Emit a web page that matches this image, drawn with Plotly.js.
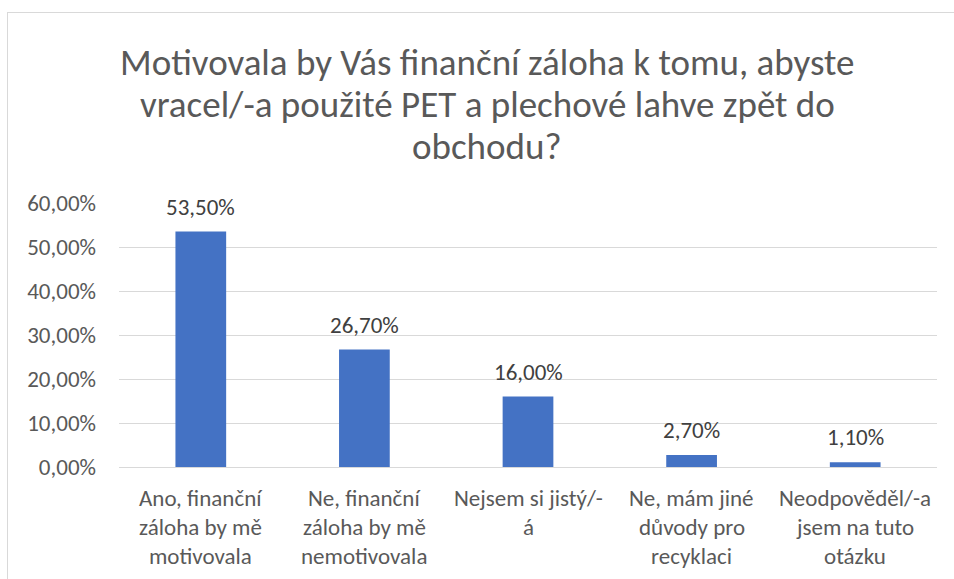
<!DOCTYPE html>
<html>
<head>
<meta charset="utf-8">
<script src="https://cdn.plot.ly/plotly-3.0.1.min.js"></script>
<style>
html,body{margin:0;padding:0;background:#fff;}
#wrap{position:relative;width:954px;height:579px;}
#chart{width:954px;height:579px;}
#frame{position:absolute;left:7px;top:12px;right:-2px;bottom:-2px;border:1px solid #d9d9d9;pointer-events:none;}
</style>
</head>
<body>
<div id="wrap"><div id="chart"></div><div id="frame"></div></div>
<script>
const titleLines = ["Motivovala by Vás finanční záloha k tomu, abyste", "vracel/-a použité PET a plechové lahve zpět do", "obchodu?"];
const categories = ["Ano, finanční záloha by mě motivovala", "Ne, finanční záloha by mě nemotivovala", "Nejsem si jistý/-á", "Ne, mám jiné důvody pro recyklaci", "Neodpověděl/-a jsem na tuto otázku"];
const categoryLines = [
  ["Ano, finanční", "záloha by mě", "motivovala"],
  ["Ne, finanční", "záloha by mě", "nemotivovala"],
  ["Nejsem si jistý/-", "á"],
  ["Ne, mám jiné", "důvody pro", "recyklaci"],
  ["Neodpověděl/-a", "jsem na tuto", "otázku"]
];
const values = [0.535, 0.267, 0.16, 0.027, 0.011];
const yTicks = [0, 0.1, 0.2, 0.3, 0.4, 0.5, 0.6];

const FONT = "Calibri, Carlito, Lato, 'Open Sans', sans-serif";

const annotations = [];
titleLines.forEach((line, j) => {
  annotations.push({
    x: 0.5, xref: 'paper', y: 1, yref: 'paper',
    text: line, showarrow: false,
    xanchor: 'center', yanchor: 'middle',
    xshift: -41,
    yshift: 141 - 42 * j,
    font: {family: FONT, size: 37, color: '#595959'}
  });
});
categories.forEach((c, i) => {
  categoryLines[i].forEach((line, j) => {
    annotations.push({
      x: c, xref: 'x', y: 0, yref: 'paper',
      text: line, showarrow: false,
      yanchor: 'middle', xanchor: 'center',
      yshift: -(31 + 29 * j),
      font: {family: FONT, size: 23, color: '#595959'}
    });
  });
  annotations.push({
    x: c, xref: 'x', y: values[i], yref: 'y',
    text: (values[i] * 100).toFixed(2).replace('.', ',') + '%',
    showarrow: false,
    yanchor: 'middle', xanchor: 'center',
    yshift: 25,
    font: {family: FONT, size: 23, color: '#404040'}
  });
});

const data = [{
  type: 'bar',
  x: categories,
  y: values,
  marker: {color: '#4472C4'},
  hoverinfo: 'none'
}];

const layout = {
  width: 954, height: 579,
  separators: ', ',
  margin: {l: 119, r: 17, t: 203, b: 112},
  paper_bgcolor: '#ffffff',
  plot_bgcolor: '#ffffff',
  bargap: 0.69,
  showlegend: false,
  xaxis: {
    type: 'category',
    showticklabels: false,
    showgrid: false,
    zeroline: false,
    showline: false,
    ticks: ''
  },
  yaxis: {
    range: [0, 0.6],
    tickvals: yTicks,
    tickformat: '.2%',
    showgrid: true,
    gridcolor: '#d9d9d9',
    gridwidth: 1,
    zeroline: true,
    zerolinecolor: '#d9d9d9',
    zerolinewidth: 1,
    showline: false,
    ticks: '',
    ticklabelstandoff: 22,
    tickfont: {family: FONT, size: 23, color: '#595959'}
  },
  annotations: annotations
};

Plotly.newPlot('chart', data, layout, {displayModeBar: false, staticPlot: true});
</script>
</body>
</html>
